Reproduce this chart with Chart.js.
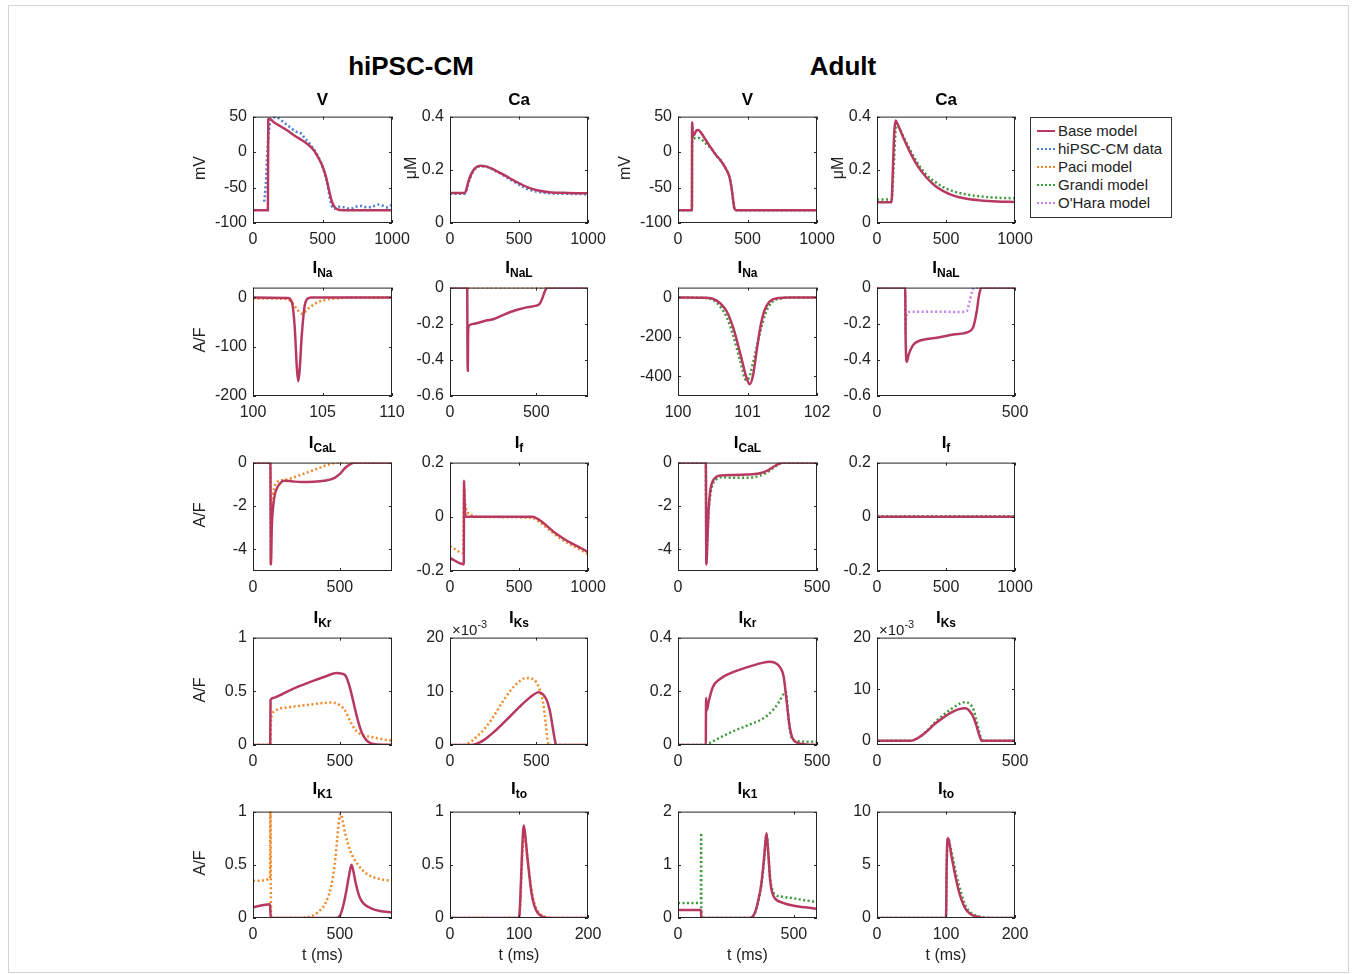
<!DOCTYPE html>
<html>
<head>
<meta charset="utf-8">
<script src="https://cdn.jsdelivr.net/npm/chart.js@4.4.1/dist/chart.umd.min.js"></script>
<style>
  body { margin: 0; background: #fff; }
  #fig { position: relative; width: 1356px; height: 974px; overflow: hidden;
         font-family: "Liberation Sans", Arial, sans-serif; color: #222; background: #fff; }
  #frame { position: absolute; left: 8px; top: 5px; width: 1339px; height: 966px; border: 1px solid #d4d4d4; }
  canvas { position: absolute; }
  .head { position: absolute; font-weight: bold; font-size: 26px; line-height: 26px; color: #000;
          transform: translateX(-50%); white-space: nowrap; }
  .ttl { position: absolute; font-weight: bold; font-size: 17px; line-height: 17px; color: #000;
         transform: translateX(-50%); white-space: nowrap; }
  .ttl .sub { font-size: 12px; position: relative; top: 4px; }
  .ylab { position: absolute; width: 100px; height: 20px; line-height: 20px; text-align: center;
          font-size: 16px; transform: rotate(-90deg); white-space: nowrap; }
  .xlab { position: absolute; font-size: 16px; line-height: 16px; transform: translateX(-50%); white-space: nowrap; }
  .exp { position: absolute; font-size: 15px; line-height: 15px; white-space: nowrap; }
  .exp sup { font-size: 11px; position: relative; top: -1px; }
  #legend { position: absolute; left: 1030px; top: 117px; width: 140px; height: 99px;
            border: 1px solid #333; background: #fff; }
  .li { position: absolute; left: 0; height: 18px; line-height: 18px; font-size: 15px; white-space: nowrap; }
  .sw { position: absolute; left: 6px; top: 8px; width: 18px; height: 0; }
  .li span.txt { position: absolute; left: 27px; }
</style>
</head>
<body>
<div id="fig">
  <div id="frame"></div>
  <div class="head" style="left:411px; top:53px;">hiPSC-CM</div>
  <div class="head" style="left:843px; top:53px;">Adult</div>
  <div id="legend">
    <div class="li" style="top:4px;"><span class="sw" style="border-top:2.5px solid #b8395f;"></span><span class="txt">Base model</span></div>
    <div class="li" style="top:22px;"><span class="sw" style="border-top:2.5px dotted #4a7fd4;"></span><span class="txt">hiPSC-CM data</span></div>
    <div class="li" style="top:40px;"><span class="sw" style="border-top:2.5px dotted #ee8a2a;"></span><span class="txt">Paci model</span></div>
    <div class="li" style="top:58px;"><span class="sw" style="border-top:2.5px dotted #3f9a3a;"></span><span class="txt">Grandi model</span></div>
    <div class="li" style="top:76px;"><span class="sw" style="border-top:2.5px dotted #c77df0;"></span><span class="txt">O'Hara model</span></div>
  </div>
</div>
<script>
// ---- hiPSC-CM column: [t (ms), value] ----
const hV_base = [[0,-82],[107,-82],[110,46],[118,47],[150,42],[200,36],[250,30],[300,23],[350,17],[400,10],[440,2],[470,-8],[500,-20],[525,-35],[545,-52],[565,-68],[585,-77],[610,-81],[650,-82],[1000,-82]];
const hV_data = [[80,-70],[88,-55],[95,-35],[102,-5],[110,20],[120,38],[135,47],[160,49],[190,47],[220,42],[260,36],[300,30],[330,27],[350,26],[370,20],[400,14],[430,6],[460,-3],[490,-15],[515,-30],[535,-45],[550,-62],[565,-75],[585,-80],[620,-77],[660,-78],[700,-80],[740,-77],[780,-76],[820,-78],[860,-77],[900,-74],[940,-76],[970,-78],[1000,-74]];
const hCa_base = [[0,0.113],[105,0.113],[115,0.12],[130,0.15],[150,0.18],[180,0.205],[220,0.215],[260,0.213],[320,0.2],[400,0.178],[480,0.155],[560,0.135],[640,0.122],[720,0.116],[850,0.113],[1000,0.112]];
const hCa_data = [[0,0.11],[105,0.11],[120,0.125],[140,0.16],[170,0.195],[220,0.213],[260,0.212],[320,0.198],[400,0.175],[480,0.15],[560,0.128],[640,0.117],[720,0.112],[850,0.11],[1000,0.108]];
const hNa_base = [[100,0],[102.5,-1],[102.8,-10],[103.0,-60],[103.15,-140],[103.25,-170],[103.35,-150],[103.5,-80],[103.7,-20],[103.9,-3],[104.2,0],[110,0]];
const hNa_paci = [[100,-2],[102.4,-3],[102.8,-10],[103.2,-25],[103.5,-33],[104,-22],[104.5,-12],[105,-6],[106,-2],[107,0],[110,0]];
const hNaL_base = [[0,0],[100,0],[101,-0.3],[103,-0.46],[105,-0.25],[110,-0.21],[140,-0.2],[200,-0.185],[250,-0.175],[300,-0.155],[350,-0.135],[400,-0.12],[450,-0.108],[500,-0.1],[520,-0.09],[535,-0.06],[550,-0.02],[565,0],[800,0]];
const hNaL_paci = [[0,0],[800,0]];
const hCaL_base = [[0,0],[100,0],[103,-4.7],[108,-3],[115,-2.1],[125,-1.5],[140,-1.15],[160,-0.92],[180,-0.84],[220,-0.86],[280,-0.9],[350,-0.88],[420,-0.83],[470,-0.7],[500,-0.52],[530,-0.25],[560,-0.07],[590,0],[800,0]];
const hCaL_paci = [[0,0],[100,0],[102,-4.7],[106,-3],[112,-1.8],[125,-1.1],[150,-0.85],[180,-0.8],[220,-0.72],[270,-0.58],[320,-0.43],[370,-0.28],[420,-0.13],[470,-0.02],[490,0],[800,0]];
const hIf_base = [[0,-0.152],[100,-0.175],[102,0.133],[106,0.06],[110,0.01],[115,0],[600,0],[650,-0.013],[700,-0.033],[770,-0.063],[830,-0.083],[890,-0.1],[950,-0.116],[1000,-0.13]];
const hIf_paci = [[0,-0.108],[95,-0.133],[102,0.105],[108,0.06],[115,0.035],[130,0.015],[160,0.005],[200,0],[590,-0.004],[650,-0.02],[700,-0.04],[770,-0.07],[830,-0.09],[890,-0.107],[950,-0.123],[1000,-0.138]];
const hKr_base = [[0,0],[99,0],[101,0.42],[120,0.44],[150,0.46],[200,0.5],[270,0.55],[350,0.6],[420,0.64],[480,0.67],[510,0.665],[535,0.64],[555,0.55],[575,0.42],[600,0.25],[625,0.12],[650,0.05],[680,0.015],[720,0.005],[800,0.002]];
const hKr_paci = [[0,0],[100,0],[103,0.2],[110,0.28],[130,0.32],[200,0.35],[300,0.37],[400,0.39],[450,0.395],[500,0.37],[530,0.32],[560,0.22],[590,0.14],[620,0.1],[680,0.075],[740,0.055],[800,0.04]];
const hKs_base = [[0,0],[120,0],[160,0.0003],[200,0.001],[250,0.0023],[300,0.0038],[350,0.0054],[400,0.007],[450,0.0085],[490,0.0095],[515,0.0098],[540,0.0094],[560,0.0084],[578,0.0065],[592,0.004],[603,0.0018],[612,0.0003],[620,0],[800,0]];
const hKs_paci = [[0,0],[80,0],[120,0.0006],[160,0.0017],[200,0.003],[250,0.0052],[300,0.0078],[350,0.0101],[400,0.0118],[440,0.0125],[470,0.0124],[500,0.0117],[520,0.0103],[540,0.0078],[555,0.004],[565,0.001],[575,0],[800,0]];
const hK1_base = [[0,0.1],[98,0.13],[102,0],[480,0],[500,0.02],[520,0.12],[540,0.28],[555,0.42],[567,0.5],[580,0.42],[595,0.3],[615,0.19],[640,0.13],[680,0.09],[730,0.065],[800,0.055]];
const hK1_paci = [[0,0.35],[98,0.37],[100,1.2],[104,0],[250,0],[320,0.01],[370,0.05],[420,0.15],[450,0.3],[470,0.5],[485,0.75],[495,0.92],[505,0.98],[515,0.92],[530,0.8],[560,0.63],[600,0.51],[650,0.42],[700,0.38],[750,0.36],[800,0.35]];
const hTo_base = [[0,0],[100,0],[102,0.2],[104,0.55],[106,0.82],[107,0.87],[109,0.78],[112,0.58],[115,0.4],[118,0.24],[122,0.12],[127,0.05],[135,0.01],[145,0],[200,0]];
const hTo_paci = [[0,0],[100,0],[102,0.15],[104,0.45],[106,0.72],[108,0.78],[110,0.7],[113,0.52],[116,0.36],[120,0.2],[125,0.09],[132,0.03],[140,0.008],[150,0],[200,0]];

// ---- Adult column ----
const aV_base = [[0,-82],[100,-82],[102,42],[106,25],[115,24],[130,30],[145,31],[170,26],[200,17],[240,5],[280,-6],[300,-10],[340,-22],[370,-35],[385,-50],[395,-65],[405,-79],[420,-82],[1000,-82]];
const aV_grandi = [[0,-82],[100,-82],[102,40],[108,18],[125,20],[150,20],[180,16],[200,12],[240,5],[280,-6],[300,-10],[340,-22],[370,-35],[385,-50],[395,-65],[405,-79],[420,-82],[1000,-82]];
const aCa_base = [[0,0.078],[105,0.078],[115,0.2],[125,0.34],[135,0.385],[150,0.37],[200,0.31],[250,0.255],[300,0.21],[360,0.17],[420,0.14],[480,0.12],[560,0.102],[640,0.092],[750,0.085],[870,0.081],[1000,0.079]];
const aCa_grandi = [[0,0.088],[105,0.088],[120,0.2],[135,0.35],[145,0.375],[160,0.36],[200,0.315],[250,0.265],[300,0.22],[360,0.18],[420,0.155],[480,0.135],[560,0.118],[640,0.108],[750,0.1],[870,0.095],[1000,0.093]];
const aNa_base = [[100,0],[100.4,-2],[100.55,-15],[100.7,-70],[100.8,-160],[100.9,-290],[100.98,-400],[101.03,-440],[101.08,-395],[101.13,-275],[101.18,-160],[101.24,-70],[101.32,-20],[101.45,-3],[101.6,0],[102,0]];
const aNa_grandi = [[100,0],[100.4,-3],[100.55,-25],[100.7,-100],[100.8,-200],[100.9,-330],[100.98,-420],[101.03,-400],[101.1,-300],[101.18,-180],[101.26,-80],[101.35,-25],[101.5,-4],[101.6,0],[102,0]];
const aNaL_base = [[0,0],[102,0],[104,-0.3],[108,-0.41],[115,-0.37],[130,-0.32],[145,-0.3],[180,-0.285],[217,-0.277],[277,-0.26],[337,-0.24],[349,-0.217],[361,-0.135],[370,-0.04],[378,0],[500,0]];
const aNaL_ohara = [[0,0],[102,0],[103,-0.25],[106,-0.16],[115,-0.135],[200,-0.133],[300,-0.135],[325,-0.13],[335,-0.08],[345,-0.02],[352,0],[500,0]];
const aCaL_base = [[0,0],[100,0],[102,-4.7],[106,-3.5],[110,-2.2],[115,-1.4],[122,-0.95],[132,-0.72],[150,-0.6],[200,-0.57],[250,-0.55],[290,-0.5],[320,-0.38],[345,-0.18],[365,-0.04],[380,0],[500,0]];
const aCaL_grandi = [[0,0],[100,0],[102,-4.6],[106,-3.4],[110,-2.3],[116,-1.5],[125,-1.0],[140,-0.75],[160,-0.68],[200,-0.7],[250,-0.7],[290,-0.62],[320,-0.45],[345,-0.22],[365,-0.05],[380,0],[500,0]];
const aIf_base = [[0,0],[1000,0]];
const aIf_grandi = [[0,0.002],[1000,0.002]];
const aKr_base = [[0,0],[100,0],[101,0.175],[104,0.13],[110,0.16],[125,0.215],[150,0.245],[200,0.272],[250,0.29],[300,0.305],[330,0.31],[355,0.303],[370,0.285],[380,0.255],[390,0.17],[400,0.08],[410,0.03],[430,0.008],[460,0.002],[500,0]];
const aKr_grandi = [[0,0],[100,0],[110,0.005],[150,0.027],[200,0.052],[250,0.073],[300,0.095],[330,0.118],[360,0.155],[380,0.19],[388,0.198],[395,0.13],[402,0.06],[410,0.025],[430,0.015],[470,0.012],[500,0.012]];
const aKs_base = [[0,0],[120,0],[150,0.0006],[180,0.0018],[210,0.0033],[240,0.0045],[270,0.0055],[300,0.0062],[320,0.0063],[335,0.0058],[350,0.0045],[360,0.003],[370,0.0012],[380,0],[500,0]];
const aKs_grandi = [[0,0],[120,0],[150,0.0006],[180,0.0019],[210,0.0036],[240,0.005],[270,0.0062],[300,0.0072],[320,0.0075],[335,0.0072],[350,0.006],[360,0.004],[370,0.0018],[380,0.0002],[390,0],[500,0]];
const aK1_base = [[0,0.15],[99,0.15],[100.5,0],[310,0],[330,0.08],[345,0.3],[360,0.65],[372,1.15],[382,1.6],[390,1.2],[398,0.7],[408,0.46],[420,0.36],[450,0.29],[500,0.23],[550,0.2],[600,0.17]];
const aK1_grandi = [[0,0.28],[99,0.28],[100,1.6],[101,0],[310,0],[330,0.07],[345,0.28],[360,0.62],[372,1.1],[382,1.58],[390,1.2],[398,0.75],[408,0.52],[420,0.44],[450,0.4],[500,0.37],[550,0.33],[600,0.3]];
const aTo_base = [[0,0],[100,0],[101,5],[102,7.3],[103,7.5],[105,7],[108,5.8],[111,4.8],[115,3.5],[120,2.2],[125,1.3],[130,0.7],[135,0.4],[140,0.22],[150,0.06],[160,0],[200,0]];
const aTo_grandi = [[0,0],[100,0],[101,4.8],[102,7.1],[103.5,7.4],[106,6.8],[110,5.6],[115,4.0],[120,2.8],[125,1.7],[130,0.95],[136,0.5],[142,0.27],[150,0.12],[160,0.03],[170,0],[200,0]];

// ---- tick labels ----
const ticks1000 = [0, 500, 1000];
const ticks800 = [0, 500];
const ticks500 = [0, 500];
const ticks600 = [0, 500];
const ticks200 = [0, 100, 200];
const ticksNaH = [100, 105, 110];
const ticksNaA = [100, 101, 102];
const yV = [-100, -50, 0, 50];
const yCa = [0, 0.2, 0.4];
const yNaH = [-200, -100, 0];
const yNaA = [-400, -200, 0];
const yNaL = [-0.6, -0.4, -0.2, 0];
const yCaL = [-4, -2, 0];
const yIf = [-0.2, 0, 0.2];
const yUnit = [0, 0.5, 1];
const yKrA = [0, 0.2, 0.4];
const yKs = [0, 0.01, 0.02];
const yK1A = [0, 1, 2];
const yToA = [0, 5, 10];

// ---- layout of the axes boxes (pixels) ----
const colL = [253, 450, 678, 877];
const colR = [392, 588, 817, 1015];
const rowT = [113, 284, 459, 634, 808];
const rowB = [223, 396, 571, 745, 918];

const BASE = '#b8395f', DATA = '#4a7fd4', PACI = '#ee8a2a', GRANDI = '#3f9a3a', OHARA = '#c77df0';

const panels = [
  { col: 0, row: 0, title: 'V', x: [0, 1000], xt: ticks1000, y: [-100, 50], yt: yV, s: [[hV_base, BASE], [hV_data, DATA]] },
  { col: 1, row: 0, title: 'Ca', x: [0, 1000], xt: ticks1000, y: [0, 0.4], yt: yCa, s: [[hCa_base, BASE], [hCa_data, DATA]] },
  { col: 2, row: 0, title: 'V', x: [0, 1000], xt: ticks1000, y: [-100, 50], yt: yV, s: [[aV_base, BASE], [aV_grandi, GRANDI]] },
  { col: 3, row: 0, title: 'Ca', x: [0, 1000], xt: ticks1000, y: [0, 0.4], yt: yCa, s: [[aCa_base, BASE], [aCa_grandi, GRANDI]] },

  { col: 0, row: 1, title: 'I', sub: 'Na', x: [100, 110], xt: ticksNaH, y: [-200, 20], yt: yNaH, s: [[hNa_base, BASE], [hNa_paci, PACI]] },
  { col: 1, row: 1, title: 'I', sub: 'NaL', x: [0, 800], xt: ticks800, y: [-0.6, 0], yt: yNaL, s: [[hNaL_base, BASE], [hNaL_paci, PACI]] },
  { col: 2, row: 1, title: 'I', sub: 'Na', x: [100, 102], xt: ticksNaA, y: [-500, 50], yt: yNaA, s: [[aNa_base, BASE], [aNa_grandi, GRANDI]] },
  { col: 3, row: 1, title: 'I', sub: 'NaL', x: [0, 500], xt: ticks500, y: [-0.6, 0], yt: yNaL, s: [[aNaL_base, BASE], [aNaL_ohara, OHARA]] },

  { col: 0, row: 2, title: 'I', sub: 'CaL', x: [0, 800], xt: ticks800, y: [-5, 0], yt: yCaL, s: [[hCaL_base, BASE], [hCaL_paci, PACI]] },
  { col: 1, row: 2, title: 'I', sub: 'f', x: [0, 1000], xt: ticks1000, y: [-0.2, 0.2], yt: yIf, s: [[hIf_base, BASE], [hIf_paci, PACI]] },
  { col: 2, row: 2, title: 'I', sub: 'CaL', x: [0, 500], xt: ticks500, y: [-5, 0], yt: yCaL, s: [[aCaL_base, BASE], [aCaL_grandi, GRANDI]] },
  { col: 3, row: 2, title: 'I', sub: 'f', x: [0, 1000], xt: ticks1000, y: [-0.2, 0.2], yt: yIf, s: [[aIf_base, BASE], [aIf_grandi, GRANDI]] },

  { col: 0, row: 3, title: 'I', sub: 'Kr', x: [0, 800], xt: ticks800, y: [0, 1], yt: yUnit, s: [[hKr_base, BASE], [hKr_paci, PACI]] },
  { col: 1, row: 3, title: 'I', sub: 'Ks', x: [0, 800], xt: ticks800, y: [0, 0.02], yt: yKs, milli: true, s: [[hKs_base, BASE], [hKs_paci, PACI]] },
  { col: 2, row: 3, title: 'I', sub: 'Kr', x: [0, 500], xt: ticks500, y: [0, 0.4], yt: yKrA, s: [[aKr_base, BASE], [aKr_grandi, GRANDI]] },
  { col: 3, row: 3, title: 'I', sub: 'Ks', x: [0, 500], xt: ticks500, y: [-0.0008, 0.02], yt: yKs, milli: true, s: [[aKs_base, BASE], [aKs_grandi, GRANDI]] },

  { col: 0, row: 4, title: 'I', sub: 'K1', x: [0, 800], xt: ticks800, y: [0, 1], yt: yUnit, s: [[hK1_base, BASE], [hK1_paci, PACI]] },
  { col: 1, row: 4, title: 'I', sub: 'to', x: [0, 200], xt: ticks200, y: [0, 1], yt: yUnit, s: [[hTo_base, BASE], [hTo_paci, PACI]] },
  { col: 2, row: 4, title: 'I', sub: 'K1', x: [0, 600], xt: ticks600, y: [0, 2], yt: yK1A, s: [[aK1_base, BASE], [aK1_grandi, GRANDI]] },
  { col: 3, row: 4, title: 'I', sub: 'to', x: [0, 200], xt: ticks200, y: [0, 10], yt: yToA, s: [[aTo_base, BASE], [aTo_grandi, GRANDI]] }
];

const PAD_L = 50, PAD_T = 12, PAD_R = 26, PAD_B = 30;
const fig = document.getElementById('fig');
const tickFont = { family: '"Liberation Sans", Arial, sans-serif', size: 16 };

// MATLAB-like box with inward ticks on all four sides
const boxPlugin = {
  id: 'box',
  afterDraw(chart) {
    const { ctx, chartArea: a, scales } = chart;
    ctx.save();
    ctx.strokeStyle = '#262626';
    ctx.lineWidth = 1;
    ctx.strokeRect(a.left + 0.5, a.top + 0.5, a.right - a.left - 1, a.bottom - a.top - 1);
    ctx.beginPath();
    scales.x.ticks.forEach(t => {
      const px = Math.round(scales.x.getPixelForValue(t.value)) + 0.5;
      ctx.moveTo(px, a.bottom); ctx.lineTo(px, a.bottom - 3);
      ctx.moveTo(px, a.top); ctx.lineTo(px, a.top + 3);
    });
    scales.y.ticks.forEach(t => {
      const py = Math.round(scales.y.getPixelForValue(t.value)) + 0.5;
      ctx.moveTo(a.left, py); ctx.lineTo(a.left + 3, py);
      ctx.moveTo(a.right, py); ctx.lineTo(a.right - 3, py);
    });
    ctx.stroke();
    ctx.restore();
  }
};

function addText(cls, html, left, top) {
  const d = document.createElement('div');
  d.className = cls;
  d.innerHTML = html;
  d.style.left = left + 'px';
  d.style.top = top + 'px';
  fig.appendChild(d);
}

function makePanel(p) {
  const L = colL[p.col], R = colR[p.col], T = rowT[p.row], B = rowB[p.row];
  const cv = document.createElement('canvas');
  cv.width = (R - L) + PAD_L + PAD_R;
  cv.height = (B - T) + PAD_T + PAD_B;
  cv.style.left = (L - PAD_L) + 'px';
  cv.style.top = (T - PAD_T) + 'px';
  fig.appendChild(cv);

  const datasets = p.s.map(([pts, color], i) => ({
    data: pts.map(([x, y]) => ({ x, y })),
    borderColor: color,
    borderWidth: 2.5,
    borderDash: i === 0 ? [] : [2, 2.5],
    pointRadius: 0,
    showLine: true,
    fill: false,
    cubicInterpolationMode: 'monotone'
  }));

  const fmt = p.milli ? (v => String(Math.round(v * 1000))) : (v => String(v));

  new Chart(cv, {
    type: 'scatter',
    data: { datasets },
    options: {
      responsive: false,
      animation: false,
      events: [],
      layout: { padding: { top: PAD_T, right: PAD_R, left: 0, bottom: 0 } },
      plugins: { legend: { display: false }, tooltip: { enabled: false } },
      scales: {
        x: {
          type: 'linear', min: p.x[0], max: p.x[1],
          afterBuildTicks: s => { s.ticks = p.xt.map(v => ({ value: v })); },
          afterFit: s => { s.height = PAD_B; },
          grid: { display: false, drawTicks: false },
          border: { display: false },
          ticks: { font: tickFont, color: '#222', padding: 7, maxRotation: 0, minRotation: 0, autoSkip: false, callback: v => String(v) }
        },
        y: {
          type: 'linear', min: p.y[0], max: p.y[1],
          afterBuildTicks: s => { s.ticks = p.yt.map(v => ({ value: v })); },
          afterFit: s => { s.width = PAD_L; },
          grid: { display: false, drawTicks: false },
          border: { display: false },
          ticks: { font: tickFont, color: '#222', padding: 6, autoSkip: false, callback: fmt }
        }
      }
    },
    plugins: [boxPlugin]
  });

  // title above the axes
  const cx = (L + R) / 2;
  if (p.sub) {
    const off = p.row === 4 ? 28 : 25;
    addText('ttl', p.title + '<span class="sub">' + p.sub + '</span>', cx, T - off);
  } else {
    addText('ttl', p.title, cx, T - 22);
  }
  if (p.milli) addText('exp', '×10<sup>-3</sup>', L + 2, T - 16);
}

panels.forEach(makePanel);

// axis labels
const midY = r => (rowT[r] + rowB[r]) / 2;
addText('ylab', 'mV', 200 - 50, midY(0) - 10);
addText('ylab', '&mu;M', 411 - 50, midY(0) - 10);
addText('ylab', 'mV', 625 - 50, midY(0) - 10);
addText('ylab', '&mu;M', 838 - 50, midY(0) - 10);
for (let r = 1; r < 5; r++) addText('ylab', 'A/F', 200 - 50, midY(r) - 10);
colL.forEach((L, c) => addText('xlab', 't (ms)', (L + colR[c]) / 2, 947));
</script>
</body>
</html>
